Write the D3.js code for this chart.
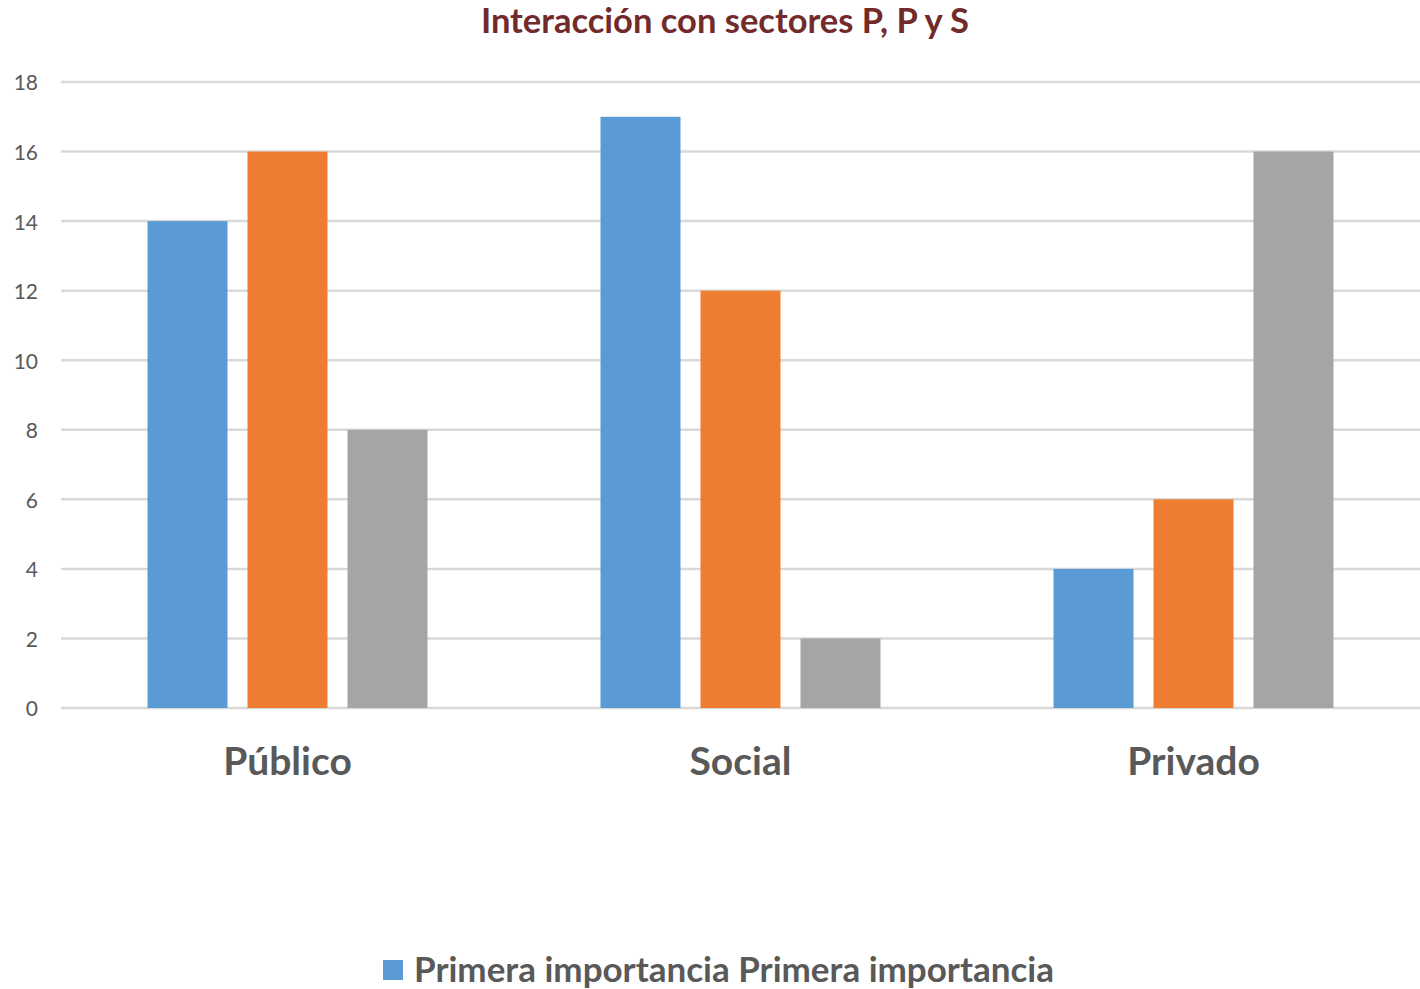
<!DOCTYPE html>
<html>
<head>
<meta charset="utf-8">
<script src="https://cdn.jsdelivr.net/npm/d3@7"></script>
<style>
  body { margin: 0; background: #fff; }
  text { font-family: Lato, "Noto Sans", sans-serif; }
</style>
</head>
<body>
<div class="chart"></div>
<script>
// chart data
const categories = ["Público", "Social", "Privado"];
const seriesNames = ["Serie 1", "Serie 2", "Serie 3"];
const serie1 = [14, 17, 4];
const serie2 = [16, 12, 6];
const serie3 = [8, 2, 16];
const yTicks = [0, 2, 4, 6, 8, 10, 12, 14, 16, 18];
const colors = ["#5b9bd5", "#ed7d31", "#a5a5a5"];
const legendLabel = "Primera importancia Primera importancia";

const W = 1420, H = 989;
const margin = {top: 82, right: 0, bottom: 281, left: 61};
const width = W - margin.left - margin.right;
const height = H - margin.top - margin.bottom;

const svg = d3.select(".chart").append("svg")
    .attr("width", W)
    .attr("height", H);

const g = svg.append("g")
    .attr("transform", `translate(${margin.left},${margin.top})`);

const xScale = d3.scaleBand()
    .domain(categories)
    .range([0, width])
    .paddingInner(0)
    .paddingOuter(0);

const yScale = d3.scaleLinear()
    .domain([0, 18])
    .range([height, 0]);

// group layout: 3 bars of 80 px with 20 px gaps, centred in each band
const barW = 80, gap = 20;
const inner = d3.scaleBand()
    .domain(seriesNames)
    .range([xScale.bandwidth() / 2 - (3 * barW + 2 * gap) / 2,
            xScale.bandwidth() / 2 + (3 * barW + 2 * gap) / 2])
    .paddingInner(gap / (barW + gap))
    .paddingOuter(0);

// gridlines
g.selectAll(".grid")
    .data(yTicks)
    .enter().append("line")
    .attr("x1", 0)
    .attr("x2", width)
    .attr("y1", d => yScale(d))
    .attr("y2", d => yScale(d))
    .attr("stroke", "#d9d9d9")
    .attr("stroke-width", 2.5);

// y axis labels
const yAxis = d3.axisLeft(yScale).tickValues(yTicks).tickSize(0).tickPadding(23);
const yg = g.append("g").call(yAxis);
yg.select(".domain").remove();
yg.selectAll("text")
    .style("font-family", "Lato, sans-serif")
    .style("font-size", "21px")
    .attr("dy", "0.38em")
    .attr("fill", "#595959");

// bars
const allSeries = [serie1, serie2, serie3];
const rows = [];
categories.forEach((c, i) => {
  seriesNames.forEach((s, j) => {
    rows.push({cat: c, serie: s, value: allSeries[j][i], color: colors[j]});
  });
});

g.selectAll(".bar")
    .data(rows)
    .enter().append("rect")
    .attr("class", "bar")
    .attr("x", d => xScale(d.cat) + inner(d.serie))
    .attr("width", inner.bandwidth())
    .attr("y", d => yScale(d.value))
    .attr("height", d => height - yScale(d.value))
    .attr("fill", d => d.color);

// category labels
g.selectAll(".cat")
    .data(categories)
    .enter().append("text")
    .attr("x", d => xScale(d) + xScale.bandwidth() / 2)
    .attr("y", height + 67)
    .attr("text-anchor", "middle")
    .style("font-size", "39px")
    .style("font-weight", "700")
    .attr("fill", "#595959")
    .text(d => d);

// title
svg.append("text")
    .attr("x", 725)
    .attr("y", 33)
    .attr("text-anchor", "middle")
    .style("font-size", "34.5px")
    .style("font-weight", "700")
    .attr("fill", "#722a2a")
    .text("Interacción con sectores P, P y S");

// legend
svg.append("rect")
    .attr("x", 383)
    .attr("y", 960)
    .attr("width", 20)
    .attr("height", 20)
    .attr("fill", colors[0]);

svg.append("text")
    .attr("x", 414)
    .attr("y", 982)
    .style("font-size", "35px")
    .style("font-weight", "700")
    .attr("fill", "#595959")
    .text(legendLabel);
</script>
</body>
</html>
